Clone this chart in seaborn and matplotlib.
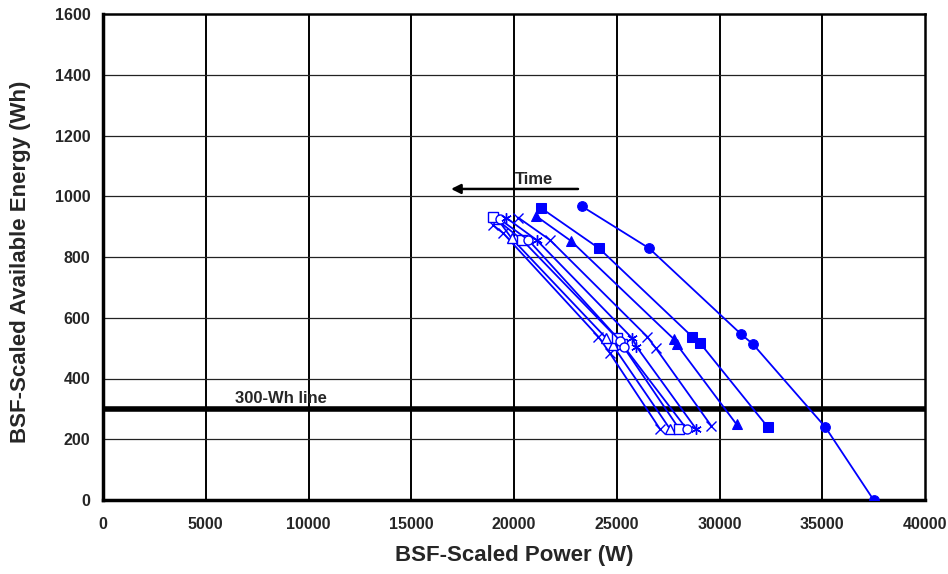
import matplotlib
matplotlib.use("Agg")
import matplotlib.pyplot as plt
import seaborn as sns
import pandas as pd

sns.set_style("white")
plt.rcParams['font.family'] = ['Liberation Sans', 'DejaVu Sans']
plt.rcParams['font.weight'] = 'bold'

# Data (power W, energy Wh)
circle_p = [23300, 26570, 31050, 31630, 35150, 37500]
circle_e = [967, 829, 546, 513, 240, 0]
square_p = [21300, 24150, 28680, 29050, 32340]
square_e = [962, 828, 537, 517, 241]
tri_p = [21050, 22770, 27790, 27910, 30830]
tri_e = [936, 853, 529, 513, 249]
x1_p = [18980, 19480, 24100, 24670, 27100]
x1_e = [905, 878, 538, 483, 234]
otri_p = [19200, 19890, 24500, 24800, 27590]
otri_e = [925, 861, 532, 510, 234]
osq_p = [19000, 20400, 25030, 25250, 28040]
osq_e = [932, 856, 532, 512, 234]
ocir_p = [19300, 20700, 25150, 25350, 28400]
ocir_e = [925, 856, 525, 505, 234]
ast_p = [19600, 21100, 25760, 25960, 28860]
ast_e = [930, 856, 532, 505, 234]
x2_p = [20200, 21750, 26480, 26910, 29590]
x2_e = [930, 856, 538, 499, 245]

x_ticks = [0, 5000, 10000, 15000, 20000, 25000, 30000, 35000, 40000]
y_ticks = [0, 200, 400, 600, 800, 1000, 1200, 1400, 1600]

fig = plt.figure(figsize=(9.48, 5.74), dpi=100)
ax = fig.add_axes([103/948, 1-500/574, (925-103)/948, (500-14)/574])

blue = '#0000FF'
series = [
    (circle_p, circle_e, dict(marker='o', markersize=7, markerfacecolor=blue, markeredgecolor=blue)),
    (square_p, square_e, dict(marker='s', markersize=7, markerfacecolor=blue, markeredgecolor=blue)),
    (tri_p, tri_e, dict(marker='^', markersize=7.5, markerfacecolor=blue, markeredgecolor=blue)),
    (x1_p, x1_e, dict(marker='x', markersize=6.5, markeredgecolor=blue, markeredgewidth=1.0)),
    (otri_p, otri_e, dict(marker='^', markersize=6.5, markerfacecolor='white', markeredgecolor=blue, markeredgewidth=1.0)),
    (osq_p, osq_e, dict(marker='s', markersize=6.5, markerfacecolor='white', markeredgecolor=blue, markeredgewidth=1.0)),
    (ocir_p, ocir_e, dict(marker='o', markersize=6.5, markerfacecolor='white', markeredgecolor=blue, markeredgewidth=1.0)),
    (ast_p, ast_e, dict(marker=(6, 2, 0), markersize=7.5, markeredgecolor=blue, markeredgewidth=1.0)),
    (x2_p, x2_e, dict(marker='x', markersize=6.5, markeredgecolor=blue, markeredgewidth=1.0)),
]

for p, e, mk in series:
    df = pd.DataFrame({'P': p, 'E': e})
    sns.lineplot(data=df, x='P', y='E', sort=False, estimator=None, color=blue,
                 linewidth=1.3, ax=ax, zorder=4, **mk)

# Gridlines
for xv in x_ticks[1:-1]:
    ax.axvline(xv, color='black', lw=1.4, zorder=1)
for yv in y_ticks[1:-1]:
    ax.axhline(yv, color='#222222', lw=0.9, zorder=1)

# 300-Wh line
ax.axhline(300, color='black', lw=4, zorder=3)
ax.text(6400, 318, '300-Wh line', fontsize=12, fontweight='bold', zorder=5)

# Time arrow
ax.annotate('', xy=(16800, 1024), xytext=(23250, 1024),
            arrowprops=dict(arrowstyle='-|>', color='black', lw=1.8, mutation_scale=14))
ax.text(20050, 1040, 'Time', fontsize=12, fontweight='bold')

ax.set_xlim(0, 40000)
ax.set_ylim(0, 1600)
ax.set_xticks(x_ticks)
ax.set_yticks(y_ticks)
ax.set_xticks([2500 + 5000 * i for i in range(8)], minor=True)
ax.set_yticks([100 + 200 * i for i in range(8)], minor=True)
ax.set_xticklabels([str(v) for v in x_ticks], fontsize=11.5, fontweight='bold')
ax.set_yticklabels([str(v) for v in y_ticks], fontsize=11.5, fontweight='bold')
ax.tick_params(axis='x', which='both', direction='inout', length=8, width=1.2, color='black', pad=8)
ax.tick_params(axis='y', which='both', direction='out', length=5, width=1.2, color='black', pad=4)

ax.set_xlabel('BSF-Scaled Power (W)', fontsize=16, fontweight='bold')
ax.set_ylabel('BSF-Scaled Available Energy (Wh)', fontsize=16, fontweight='bold')
ax.xaxis.set_label_coords(0.5, (500 - 545) / 486)
ax.yaxis.set_label_coords((31 - 103) / 822, 0.49)

for side in ['left', 'bottom']:
    ax.spines[side].set_linewidth(2.5)
    ax.spines[side].set_color('black')
for side in ['top', 'right']:
    ax.spines[side].set_linewidth(1.8)
    ax.spines[side].set_color('black')
    ax.spines[side].set_visible(True)

leg = ax.get_legend()
if leg is not None:
    leg.remove()

fig.savefig('out.png', dpi=100)
